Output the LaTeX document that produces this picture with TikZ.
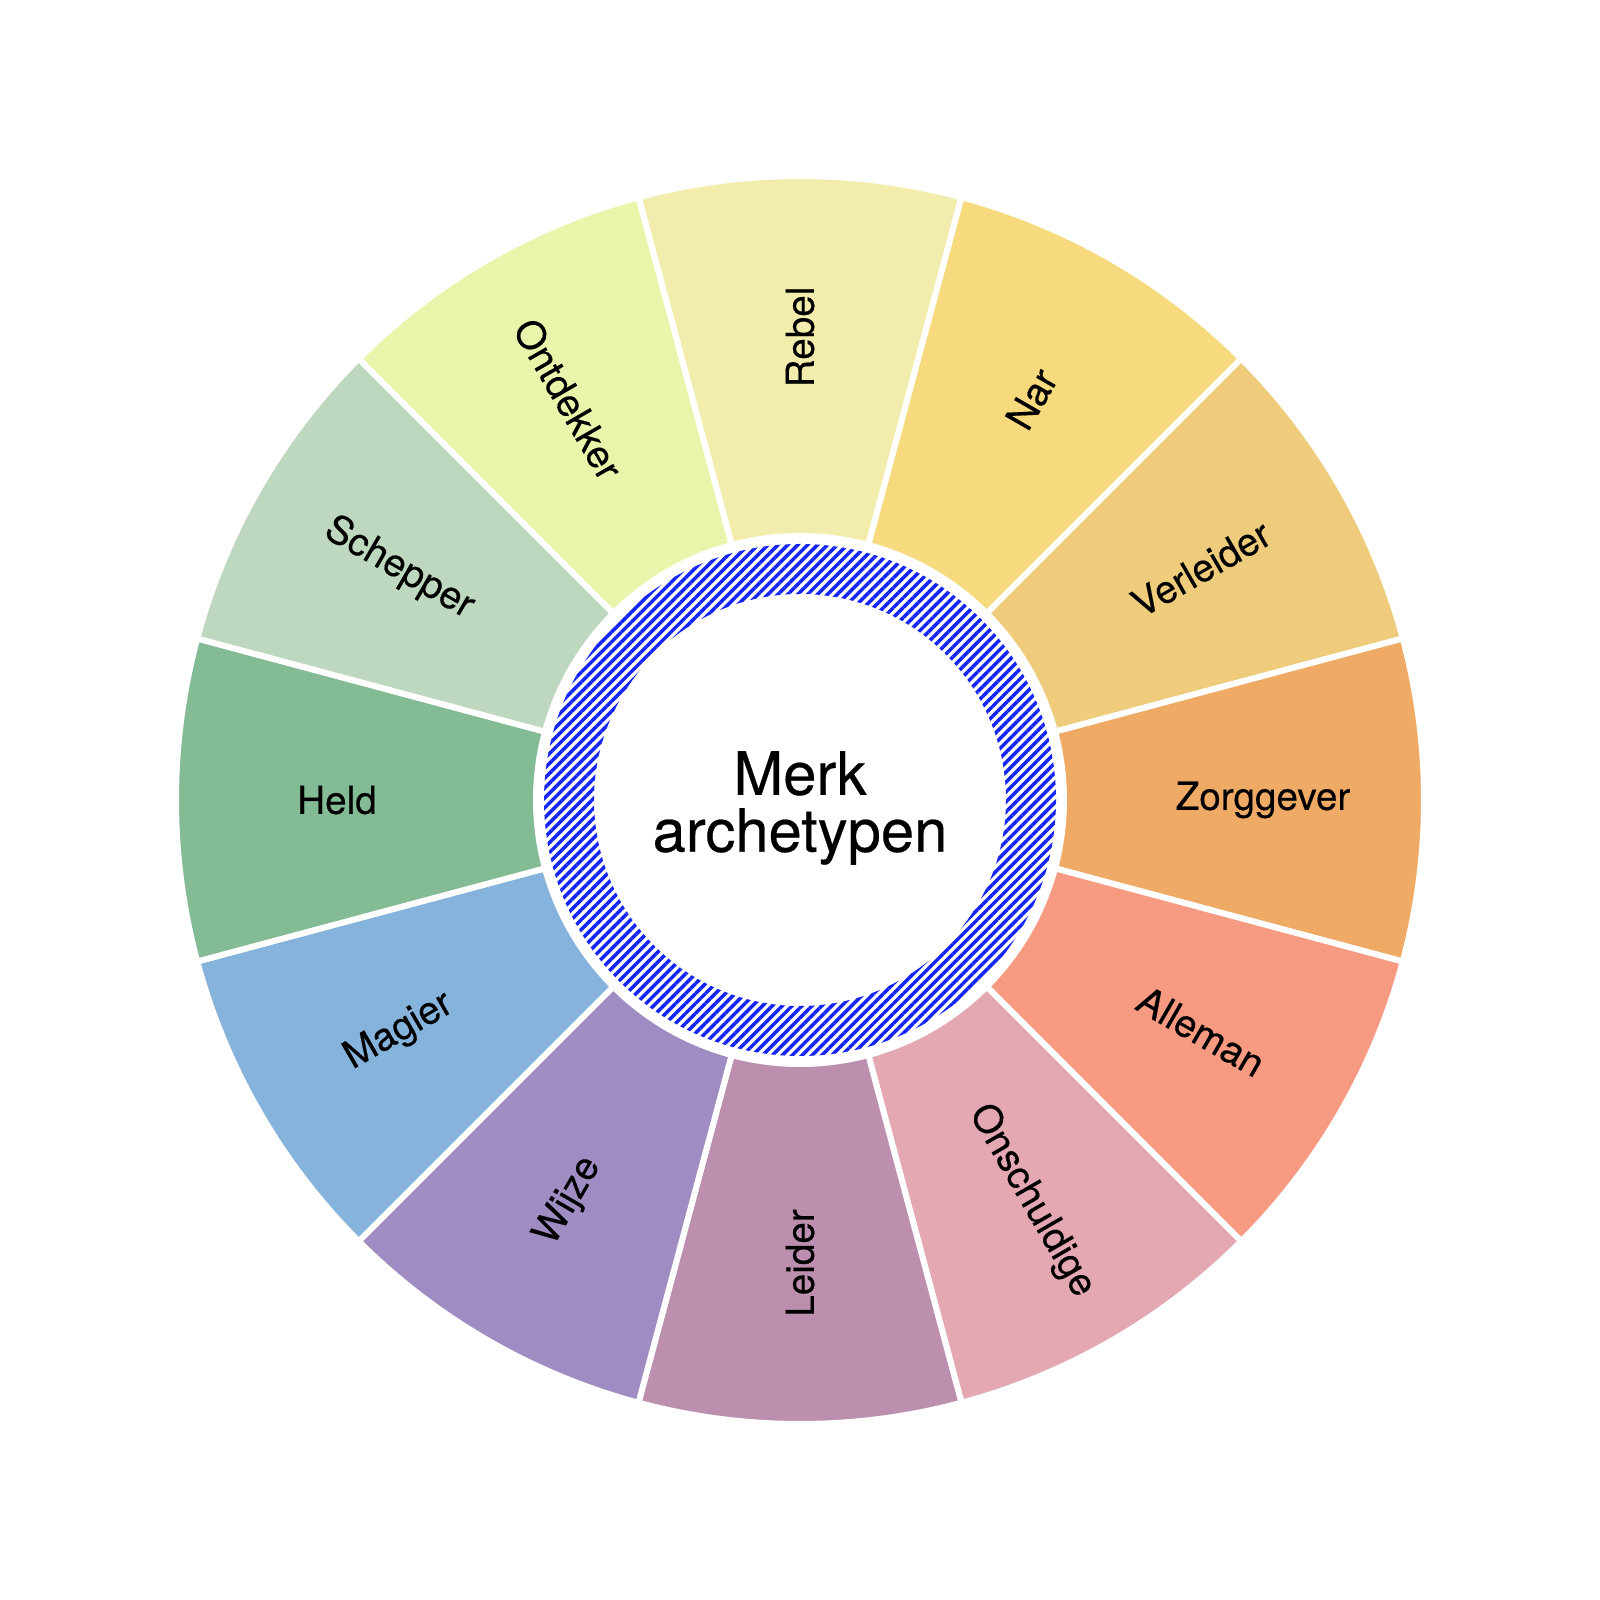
\documentclass[tikz,border=0pt]{standalone}
\usepackage{fontspec}
\setmainfont{TeX Gyre Heros}[FakeBold=0.4]
\usetikzlibrary{patterns.meta}

\definecolor{cRebel}{HTML}{F3EDAD}
\definecolor{cNar}{HTML}{F7DA7E}
\definecolor{cVerleider}{HTML}{EFCB7C}
\definecolor{cZorggever}{HTML}{EFAA66}
\definecolor{cAlleman}{HTML}{F79A82}
\definecolor{cOnschuldige}{HTML}{E4A8B2}
\definecolor{cLeider}{HTML}{BD8FAF}
\definecolor{cWijze}{HTML}{9F8CC2}
\definecolor{cMagier}{HTML}{85B3DC}
\definecolor{cHeld}{HTML}{82BB94}
\definecolor{cSchepper}{HTML}{BDD8BE}
\definecolor{cOntdekker}{HTML}{E9F5AA}
\definecolor{hatchblue}{HTML}{1424F2}

\tikzset{
  seg/.style={draw=white, line width=0.06cm},
  lbl/.style={inner sep=0pt, font=\fontsize{11}{13}\selectfont},
  hatch/.style={pattern={Lines[angle=45, distance=0.07cm, line width=0.035cm]}, pattern color=hatchblue}
}

\begin{document}
\begin{tikzpicture}
\useasboundingbox (-8,-8) rectangle (8,8);

% segments, clockwise from the top
\filldraw[seg, fill=cRebel] (75:2.64) arc[start angle=75, end angle=105, radius=2.64] -- (105:6.24) arc[start angle=105, end angle=75, radius=6.24] -- cycle;
\filldraw[seg, fill=cNar] (45:2.64) arc[start angle=45, end angle=75, radius=2.64] -- (75:6.24) arc[start angle=75, end angle=45, radius=6.24] -- cycle;
\filldraw[seg, fill=cVerleider] (15:2.64) arc[start angle=15, end angle=45, radius=2.64] -- (45:6.24) arc[start angle=45, end angle=15, radius=6.24] -- cycle;
\filldraw[seg, fill=cZorggever] (-15:2.64) arc[start angle=-15, end angle=15, radius=2.64] -- (15:6.24) arc[start angle=15, end angle=-15, radius=6.24] -- cycle;
\filldraw[seg, fill=cAlleman] (-45:2.64) arc[start angle=-45, end angle=-15, radius=2.64] -- (-15:6.24) arc[start angle=-15, end angle=-45, radius=6.24] -- cycle;
\filldraw[seg, fill=cOnschuldige] (-75:2.64) arc[start angle=-75, end angle=-45, radius=2.64] -- (-45:6.24) arc[start angle=-45, end angle=-75, radius=6.24] -- cycle;
\filldraw[seg, fill=cLeider] (-105:2.64) arc[start angle=-105, end angle=-75, radius=2.64] -- (-75:6.24) arc[start angle=-75, end angle=-105, radius=6.24] -- cycle;
\filldraw[seg, fill=cWijze] (-135:2.64) arc[start angle=-135, end angle=-105, radius=2.64] -- (-105:6.24) arc[start angle=-105, end angle=-135, radius=6.24] -- cycle;
\filldraw[seg, fill=cMagier] (-165:2.64) arc[start angle=-165, end angle=-135, radius=2.64] -- (-135:6.24) arc[start angle=-135, end angle=-165, radius=6.24] -- cycle;
\filldraw[seg, fill=cHeld] (165:2.64) arc[start angle=165, end angle=195, radius=2.64] -- (195:6.24) arc[start angle=195, end angle=165, radius=6.24] -- cycle;
\filldraw[seg, fill=cSchepper] (135:2.64) arc[start angle=135, end angle=165, radius=2.64] -- (165:6.24) arc[start angle=165, end angle=135, radius=6.24] -- cycle;
\filldraw[seg, fill=cOntdekker] (105:2.64) arc[start angle=105, end angle=135, radius=2.64] -- (135:6.24) arc[start angle=135, end angle=105, radius=6.24] -- cycle;

% hatched ring
\fill[hatch, even odd rule] (0,0) circle (2.56) (0,0) circle (2.06);

% labels
\node[lbl, rotate=90] (rebel) at (90:4.63) {Rebel};
\node[lbl, rotate=60] (nar) at (60:4.63) {Nar};
\node[lbl, rotate=30] (verleider) at (30:4.63) {Verleider};
\node[lbl] (zorggever) at (0:4.63) {Zorggever};
\node[lbl, rotate=-30] (alleman) at (-30:4.63) {Alleman};
\node[lbl, rotate=-60] (onschuldige) at (-60:4.63) {Onschuldige};
\node[lbl, rotate=90] (leider) at (-90:4.63) {Leider};
\node[lbl, rotate=60] (wijze) at (-120:4.63) {Wijze};
\node[lbl, rotate=30] (magier) at (-150:4.63) {Magier};
\node[lbl] (held) at (180:4.63) {Held};
\node[lbl, rotate=-30] (schepper) at (150:4.63) {Schepper};
\node[lbl, rotate=-60] (ontdekker) at (120:4.63) {Ontdekker};

\node[align=center, font=\fontsize{17}{16.2}\selectfont] (title) at (0,-0.08) {Merk\\archetypen};
\end{tikzpicture}
\end{document}
